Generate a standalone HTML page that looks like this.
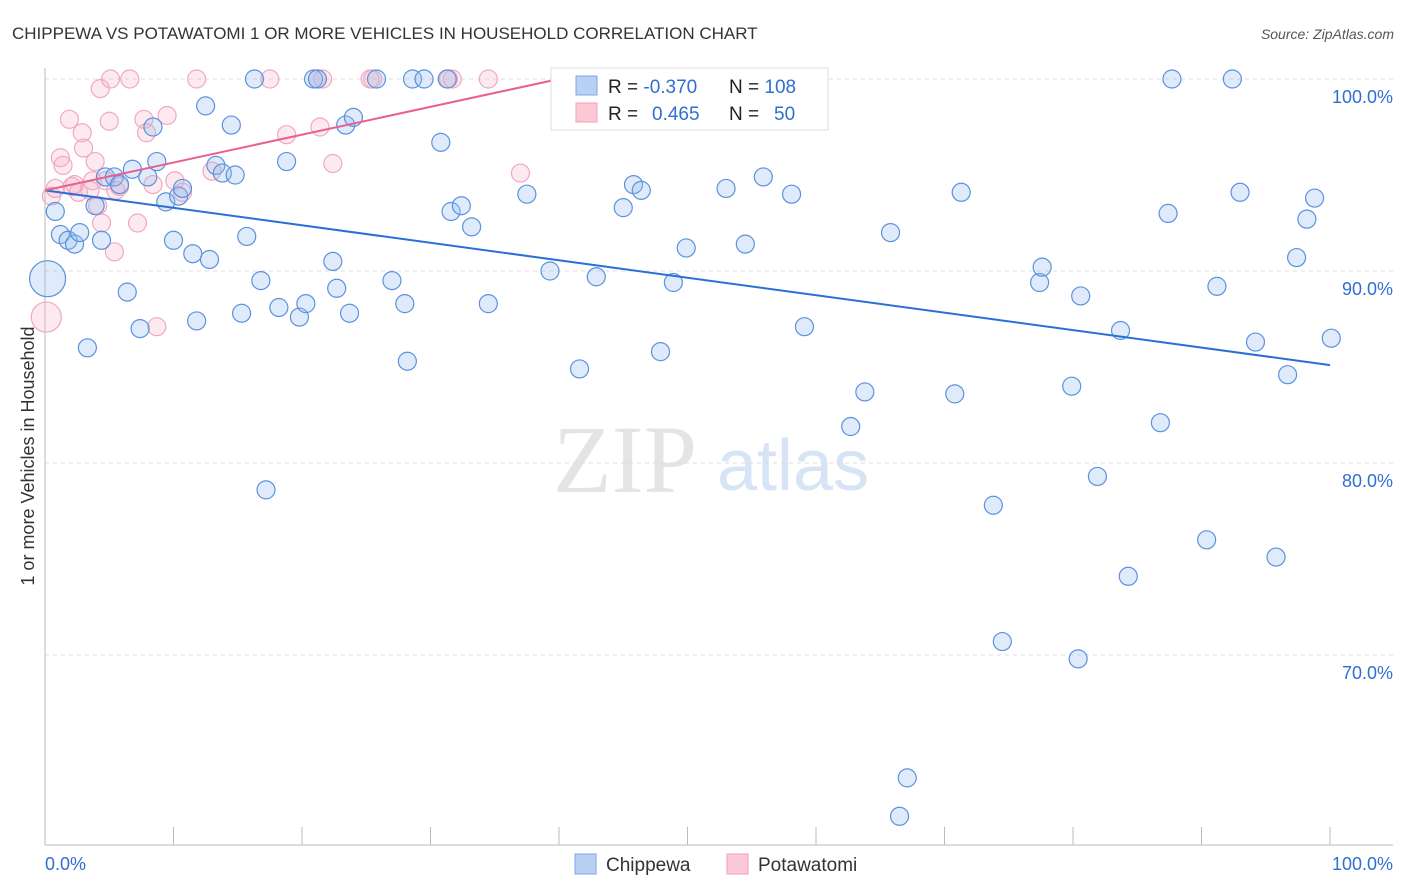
<!DOCTYPE html>
<html><head><meta charset="utf-8"><style>
body{margin:0;background:#fff;font-family:"Liberation Sans",sans-serif;}
svg{display:block}
</style></head><body>
<svg id="chart" width="1406" height="892">
<text x="12" y="39" font-size="17" fill="#333">CHIPPEWA VS POTAWATOMI 1 OR MORE VEHICLES IN HOUSEHOLD CORRELATION CHART</text>
<text x="1394" y="39" font-size="14" fill="#555" font-style="italic" text-anchor="end">Source: ZipAtlas.com</text>
<g>
<text x="553" y="492" font-size="96" font-family="Liberation Serif,serif" fill="#e4e4e4">ZIP</text>
<text x="717" y="490" font-size="72" fill="#d6e4f5">atlas</text>
</g>
<g id="grid"></g>
<g id="axes"></g>
<g id="points"></g>
<g id="trends"></g>
<text transform="translate(34,456) rotate(-90)" font-size="18" fill="#333" text-anchor="middle">1 or more Vehicles in Household</text>
<g>
<rect x="551" y="68" width="277" height="62" fill="#fff" stroke="#ddd"/>
<rect x="576" y="76" width="21" height="19" fill="#b8d1f3" stroke="#7aa7e6"/>
<rect x="576" y="103" width="21" height="19" fill="#fbc8d6" stroke="#f0a0bb"/>
<text x="608" y="93" font-size="19" fill="#222">R = <tspan fill="#2f6fd1">-0.370</tspan><tspan x="729">N = </tspan><tspan fill="#2f6fd1">108</tspan></text>
<text x="608" y="120" font-size="19" fill="#222">R = <tspan x="652" fill="#2f6fd1">0.465</tspan><tspan x="729">N = </tspan><tspan x="774" fill="#2f6fd1">50</tspan></text>
</g>
<g>
<rect x="575" y="854" width="21" height="20" fill="#b8d1f3" stroke="#7aa7e6"/>
<text x="606" y="871" font-size="19" fill="#333">Chippewa</text>
<rect x="727" y="854" width="21" height="20" fill="#fbc8d6" stroke="#f0a0bb"/>
<text x="758" y="871" font-size="19" fill="#333">Potawatomi</text>
</g>
</svg>
<script>
const blueX=[0.2,0.8,1.2,1.8,2.3,2.7,3.3,3.9,4.4,4.7,5.4,5.8,6.4,6.8,7.4,8.0,8.4,8.7,9.4,10.0,10.4,10.7,11.5,11.8,12.5,12.8,13.3,13.8,14.5,14.8,15.3,15.7,16.3,16.8,17.2,18.2,18.8,19.8,20.3,20.9,21.2,22.4,22.7,23.4,23.7,24.0,25.8,27.0,28.0,28.2,28.6,29.5,30.8,31.3,31.6,32.4,33.2,34.5,37.5,39.3,41.6,42.9,45.0,45.8,46.4,47.9,48.9,49.9,53.0,53.2,54.5,55.9,58.1,59.1,62.7,63.8,65.8,66.5,67.1,70.8,71.3,73.8,74.5,77.4,77.6,79.9,80.4,80.6,81.9,83.7,84.3,86.8,87.4,87.7,90.4,91.2,92.4,93.0,94.2,95.8,96.7,97.4,98.2,98.8,100.1];
const blueY=[89.6,93.1,91.9,91.6,91.4,92.0,86.0,93.4,91.6,94.9,94.9,94.5,88.9,95.3,87.0,94.9,97.5,95.7,93.6,91.6,93.9,94.3,90.9,87.4,98.6,90.6,95.5,95.1,97.6,95.0,87.8,91.8,100,89.5,78.6,88.1,95.7,87.6,88.3,100,100,90.5,89.1,97.6,87.8,98.0,100,89.5,88.3,85.3,100,100,96.7,100,93.1,93.4,92.3,88.3,94.0,90.0,84.9,89.7,93.3,94.5,94.2,85.8,89.4,91.2,94.3,100,91.4,94.9,94.0,87.1,81.9,83.7,92.0,61.6,63.6,83.6,94.1,77.8,70.7,89.4,90.2,84.0,69.8,88.7,79.3,86.9,74.1,82.1,93.0,100,76.0,89.2,100,94.1,86.3,75.1,84.6,90.7,92.7,93.8,86.5];
const pinkX=[0.1,0.5,0.8,1.2,1.4,1.9,2.1,2.3,2.6,2.9,3.0,3.5,3.7,3.9,4.1,4.3,4.4,4.7,5.0,5.1,5.4,5.5,5.8,6.6,7.2,7.7,7.9,8.4,8.7,9.5,10.1,10.7,11.8,13.0,17.5,18.8,21.2,21.4,21.6,22.4,25.3,25.5,31.4,31.7,34.5,37.0,43.6,44.0];
const pinkY=[87.6,93.9,94.3,95.9,95.5,97.9,94.4,94.5,94.1,97.2,96.4,94.2,94.7,95.7,93.4,99.5,92.5,94.7,97.8,100,91.0,94.2,94.4,100,92.5,97.9,97.2,94.5,87.1,98.1,94.7,94.1,100,95.2,100,97.1,100,97.5,100,95.6,100,100,100,100,100,95.1,100,100];
const blueTrend=[94.2,85.1];
const pinkTrend=[94.2,100.0];
const pinkTrendEndX=40;
const yTicks=[100,90,80,70];
const xTickLabels=["0.0%","100.0%"];

const NS="http://www.w3.org/2000/svg";
const X=v=>45+v*12.85, Y=v=>79+(100-v)*19.2;
function mk(tag,attrs,parent){const e=document.createElementNS(NS,tag);for(const k in attrs)e.setAttribute(k,attrs[k]);parent.appendChild(e);return e;}
const grid=document.getElementById('grid'),axes=document.getElementById('axes'),pts=document.getElementById('points'),tr=document.getElementById('trends');
yTicks.forEach(t=>{
 const l=mk('line',{x1:45,x2:1393,y1:Y(t),y2:Y(t),stroke:'#ddd','stroke-dasharray':'4,4'},grid);
 
 
 const tx=mk('text',{x:1393,y:Y(t)+24,'font-size':18,fill:'#2f6fd1','text-anchor':'end'},grid);
 tx.textContent=t.toFixed(1)+'%';
 
 
});
mk('line',{x1:45,x2:45,y1:68,y2:845,stroke:'#bbb'},axes);
mk('line',{x1:45,x2:1393,y1:845,y2:845,stroke:'#bbb'},axes);
for(let i=0;i<=10;i++){const t=mk('line',{x1:X(i*10),x2:X(i*10),y1:827,y2:845,stroke:'#bbb'},axes);
 
 }
[[0,'start'],[100,'end']].forEach((p,i)=>{const t=mk('text',{x:X(p[0])+(i?63:0),y:870,'font-size':18,fill:'#2f6fd1','text-anchor':p[1]},axes);t.textContent=xTickLabels[i];
 
 });
function dots(xs,ys,fill,stroke,name,bigR){xs.forEach((x,i)=>{const c=mk('circle',{cx:X(x),cy:Y(ys[i]),r:i===0?bigR:9,fill:fill,stroke:stroke,'stroke-width':1.2},pts);
 
 });}
dots(pinkX,pinkY,'rgba(248,170,195,0.25)','#f0a8c0','potawatomi-point',15);
dots(blueX,blueY,'rgba(150,190,240,0.3)','#5b92dc','chippewa-point',18);
const bl=mk('line',{x1:X(0),y1:Y(blueTrend[0]),x2:X(100),y2:Y(blueTrend[1]),stroke:'#2a6fd6','stroke-width':2},tr);


const pl=mk('line',{x1:X(0),y1:Y(pinkTrend[0]),x2:X(pinkTrendEndX),y2:Y(pinkTrend[1]),stroke:'#e8608e','stroke-width':2},tr);


</script>
</body></html>
